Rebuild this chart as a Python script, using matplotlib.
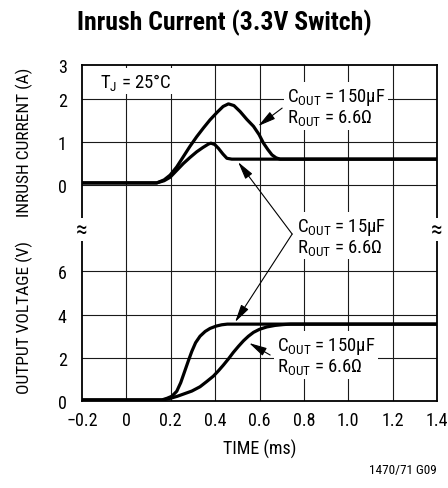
import matplotlib
matplotlib.use("Agg")
import matplotlib.pyplot as plt
from matplotlib import font_manager as fm

# ---------------- data ----------------
time_ticks = [-0.2, 0, 0.2, 0.4, 0.6, 0.8, 1.0, 1.2, 1.4]
time_tick_labels = ["\u22120.2", "0", "0.2", "0.4", "0.6", "0.8", "1.0", "1.2", "1.4"]
volt_ticks = [0, 2, 4, 6]
curr_ticks = [0, 1, 2, 2.78]
curr_tick_labels = ["0", "1", "2", "3"]

# inrush current, COUT = 150uF
t_i150 = [-0.2, 0.137, 0.17, 0.197, 0.227, 0.257, 0.287, 0.317, 0.347, 0.377, 0.41,
          0.436, 0.46, 0.485, 0.513, 0.543, 0.573, 0.598, 0.618, 0.638, 0.656, 0.675,
          0.693, 1.4]
i_150 = [0.05, 0.05, 0.12, 0.23, 0.42, 0.66, 0.90, 1.12, 1.32, 1.51, 1.69,
         1.82, 1.88, 1.84, 1.70, 1.52, 1.36, 1.17, 0.97, 0.82, 0.70, 0.63,
         0.60, 0.60]
# inrush current, COUT = 15uF
t_i15 = [-0.2, 0.137, 0.17, 0.197, 0.227, 0.257, 0.287, 0.317, 0.345, 0.370, 0.381,
         0.398, 0.415, 0.435, 0.453, 0.475, 1.4]
i_15 = [0.05, 0.05, 0.10, 0.18, 0.34, 0.50, 0.64, 0.77, 0.87, 0.95, 0.97,
        0.94, 0.85, 0.72, 0.62, 0.60, 0.60]
# output voltage, COUT = 15uF
t_v15 = [-0.2, 0.16, 0.182, 0.205, 0.227, 0.245, 0.262, 0.279, 0.295, 0.312, 0.332,
         0.355, 0.377, 0.405, 0.43, 0.455, 1.4]
v_15 = [0.05, 0.05, 0.12, 0.22, 0.45, 0.85, 1.35, 1.85, 2.30, 2.70, 3.00,
        3.22, 3.36, 3.47, 3.53, 3.56, 3.56]
# output voltage, COUT = 150uF
t_v150 = [-0.2, 0.165, 0.2, 0.23, 0.257, 0.295, 0.332, 0.362, 0.392, 0.415, 0.437,
          0.46, 0.482, 0.505, 0.528, 0.55, 0.573, 0.6, 0.633, 0.67, 0.708, 0.74, 1.4]
v_150 = [0.05, 0.05, 0.13, 0.22, 0.32, 0.46, 0.66, 0.90, 1.15, 1.40, 1.66,
         1.95, 2.25, 2.53, 2.79, 3.00, 3.18, 3.32, 3.43, 3.50, 3.54, 3.56, 3.56]

# ---------------- fonts ----------------
avail = {f.name for f in fm.fontManager.ttflist}
FONT = "DejaVu Sans"
for cand in ["Liberation Sans Narrow", "Roboto Condensed", "Liberation Sans", "Roboto"]:
    if cand in avail:
        FONT = cand
        break
plt.rcParams["font.family"] = [FONT, "DejaVu Sans"]
plt.rcParams["mathtext.fontset"] = "custom"
plt.rcParams["mathtext.rm"] = FONT
plt.rcParams["mathtext.it"] = FONT
plt.rcParams["mathtext.bf"] = FONT + ":bold"

# stacked axis: voltage uses y = V, current uses y = C0 + K * I
C0, K = 10.0, 2.0
YTOP = C0 + K * curr_ticks[-1]

def cy(vals):
    return [C0 + K * v for v in vals]

W, H = 448, 489
fig = plt.figure(figsize=(W / 100, H / 100), dpi=100)
ax = fig.add_axes([82 / W, 87 / H, 355 / W, 336 / H])
ax.set_xlim(-0.2, 1.4)
ax.set_ylim(0, YTOP)

# grid
for x in time_ticks[1:-1]:
    ax.axvline(x, color="#1a1a1a", lw=0.8, zorder=0.5)
for y in volt_ticks[1:] + cy(curr_ticks[:-1]):
    ax.axhline(y, color="#1a1a1a", lw=0.8, zorder=0.5)

# curves
lw = 2.3
kw = dict(color="black", lw=lw, solid_joinstyle="round", solid_capstyle="butt", zorder=2)
ax.plot(t_i150, cy(i_150), **kw)
ax.plot(t_i15, cy(i_15), **kw)
ax.plot(t_v15, v_15, **kw)
ax.plot(t_v150, v_150, **kw)

# ticks
ax.set_xticks(time_ticks)
ax.set_xticklabels(time_tick_labels)
ax.set_yticks(volt_ticks + cy(curr_ticks))
ax.set_yticklabels([str(v) for v in volt_ticks] + curr_tick_labels)
ax.tick_params(length=0, labelsize=13)
ax.tick_params(axis="x", pad=7)
ax.tick_params(axis="y", pad=11)
for s in ax.spines.values():
    s.set_linewidth(1.3)

ax.set_xlabel("TIME (ms)", fontsize=13, labelpad=7)

fig.text(24 / W, 1 - 142 / H, "INRUSH CURRENT (A)", rotation=90, ha="center", va="center", fontsize=12.5)
fig.text(24 / W, 1 - 318 / H, "OUTPUT VOLTAGE (V)", rotation=90, ha="center", va="center", fontsize=12.5)
fig.text(224 / W, 1 - 23 / H, "Inrush Current (3.3V Switch)", ha="center", va="center",
         fontsize=18.5, fontweight="bold")
fig.text(437 / W, 1 - 471 / H, "1470/71 G09", ha="right", va="center", fontsize=9.5)

# break marks
for x in (-0.2, 1.4):
    ax.text(x, 7.95, "\u2248", ha="center", va="center", fontsize=17, clip_on=False, zorder=5,
            bbox=dict(boxstyle="square,pad=0.0", fc="white", ec="none"))

def px2d(px, py):
    return (-0.2 + (px - 82) / 221.7, (402 - py) / 21.6)

box = dict(boxstyle="square,pad=0.15", fc="white", ec="none")
tfs = 13.5
ax.text(*px2d(100, 82), r"T$_{\mathrm{J}}$ = 25°C", ha="left", va="center", fontsize=tfs,
        bbox=box, zorder=4)

ax.text(*px2d(287, 107.5), "C$_{\\mathrm{OUT}}$ = 150\u00b5F\nR$_{\\mathrm{OUT}}$ = 6.6\u03a9",
        ha="left", va="center", fontsize=tfs, linespacing=1.0, bbox=box, zorder=4)
ax.text(*px2d(297, 237), "C$_{\\mathrm{OUT}}$ = 15\u00b5F\nR$_{\\mathrm{OUT}}$ = 6.6\u03a9",
        ha="left", va="center", fontsize=tfs, linespacing=1.0, bbox=box, zorder=4)
ax.text(*px2d(277, 356.5), "C$_{\\mathrm{OUT}}$ = 150\u00b5F\nR$_{\\mathrm{OUT}}$ = 6.6\u03a9",
        ha="left", va="center", fontsize=tfs, linespacing=1.0, bbox=box, zorder=4)

aprops = dict(arrowstyle="-|>,head_length=0.9,head_width=0.22", lw=0.8, color="black",
              shrinkA=0, shrinkB=0, mutation_scale=12)
arrows = [((282, 109), (258, 127)),
          ((292, 235), (238, 163)),
          ((292, 235), (235, 323)),
          ((270, 356), (249, 344))]
for tail, tip in arrows:
    ax.annotate("", xy=px2d(*tip), xytext=px2d(*tail), arrowprops=aprops, zorder=5)

fig.savefig("out.png", dpi=100)
